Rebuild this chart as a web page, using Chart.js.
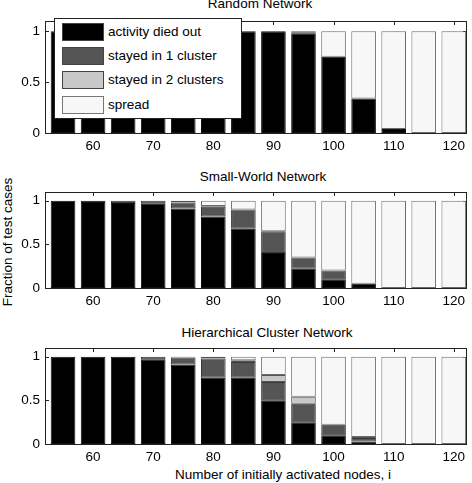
<!DOCTYPE html>
<html>
<head>
<meta charset="utf-8">
<script src="https://cdn.jsdelivr.net/npm/chart.js@4/dist/chart.umd.min.js"></script>
<style>
  html, body { margin: 0; padding: 0; background: #fff; }
  body { font-family: "Liberation Sans", Arial, sans-serif; color: #000; }
  #fig { position: relative; width: 472px; height: 483px; overflow: hidden; }
  .panel { position: absolute; left: 0; width: 472px; }
  .txt { position: absolute; font-size: 13.5px; line-height: 16px; white-space: nowrap; transform: translateX(-50%); }
  #ylabel { position: absolute; left: 8px; top: 242px; font-size: 13.5px; line-height: 16px; white-space: nowrap;
            transform: translate(-50%, -50%) rotate(-90deg); }
  #legend { position: absolute; left: 54px; top: 18px; width: 186px; height: 99px; background: #fff;
            border: 1px solid #222; font-size: 13.5px; }
  .row { position: absolute; left: 7px; height: 18px; }
  .sw { position: absolute; left: 0; top: 0; width: 40px; height: 16px; border: 1px solid #444; }
  .lab { position: absolute; left: 46px; top: 0; line-height: 18px; white-space: nowrap; }
</style>
</head>
<body>
<div id="fig">
  <div class="txt" style="left:260px; top:-4px">Random Network</div>
  <div class="txt" style="left:263px; top:169px">Small-World Network</div>
  <div class="txt" style="left:267px; top:325px">Hierarchical Cluster Network</div>
  <div class="txt" style="left:283px; top:467px">Number of initially activated nodes, i</div>
  <div id="ylabel">Fraction of test cases</div>

  <div class="panel" style="top:0px"><canvas id="randomChart" width="472" height="160"></canvas></div>
  <div class="panel" style="top:170px"><canvas id="smallWorldChart" width="472" height="145"></canvas></div>
  <div class="panel" style="top:326px"><canvas id="hierChart" width="472" height="145"></canvas></div>

  <div id="legend"></div>
</div>

<script>
// ===============================
// DONNEES
// ===============================

const nodes = [55, 60, 65, 70, 75, 80, 85, 90, 95, 100, 105, 110, 115, 120];
const xTicks = [60, 70, 80, 90, 100, 110, 120];
const yTicks = [0, 0.5, 1];

const seriesLabels = ["activity died out", "stayed in 1 cluster", "stayed in 2 clusters", "spread"];
const seriesColors = ["#000000", "#555555", "#c8c8c8", "#f7f7f7"];
const seriesEdges  = ["#111111", "#3a3a3a", "#555555", "#6a6a6a"];

// Random Network
const randomDied   = [1, 1, 1, 1, 1, 1, 1, 1, 0.98, 0.75, 0.34, 0.04, 0, 0];
const randomStay1  = [0, 0, 0, 0, 0, 0, 0, 0, 0.01, 0, 0, 0, 0, 0];
const randomStay2  = [0, 0, 0, 0, 0, 0, 0, 0, 0.01, 0, 0, 0, 0, 0];
const randomSpread = [0, 0, 0, 0, 0, 0, 0, 0, 0, 0.25, 0.66, 0.96, 1, 1];

// Small-World Network
const swDied   = [1, 0.985, 0.975, 0.97, 0.91, 0.82, 0.68, 0.40, 0.22, 0.10, 0.05, 0, 0, 0];
const swStay1  = [0, 0.015, 0.025, 0.03, 0.07, 0.11, 0.22, 0.25, 0.13, 0.10, 0, 0, 0, 0];
const swStay2  = [0, 0, 0, 0, 0.02, 0.01, 0, 0, 0, 0, 0, 0, 0, 0];
const swSpread = [0, 0, 0, 0, 0, 0.06, 0.10, 0.35, 0.65, 0.80, 0.95, 1, 1, 1];

// Hierarchical Cluster Network
const hcDied   = [1, 1, 1, 0.97, 0.91, 0.76, 0.76, 0.50, 0.25, 0.10, 0.03, 0, 0, 0];
const hcStay1  = [0, 0, 0, 0.03, 0.08, 0.22, 0.18, 0.21, 0.21, 0.12, 0.04, 0, 0, 0];
const hcStay2  = [0, 0, 0, 0, 0.01, 0.02, 0.02, 0.08, 0.08, 0, 0.01, 0, 0, 0];
const hcSpread = [0, 0, 0, 0, 0, 0, 0.04, 0.21, 0.46, 0.78, 0.92, 1, 1, 1];

// ===============================
// CADRE + GRADUATIONS INTERIEURES
// ===============================

const framePlugin = {
    id: "frame",
    beforeDatasetsDraw(chart) {
        const { ctx, chartArea: a, scales } = chart;
        ctx.save();
        ctx.strokeStyle = "#222";
        ctx.lineWidth = 1;
        ctx.strokeRect(a.left + 0.5, a.top + 0.5, a.right - a.left - 1, a.bottom - a.top);
        ctx.beginPath();
        xTicks.forEach(v => {
            const x = Math.round(scales.x.getPixelForValue(v)) + 0.5;
            ctx.moveTo(x, a.top); ctx.lineTo(x, a.top + 4);
            ctx.moveTo(x, a.bottom); ctx.lineTo(x, a.bottom - 4);
        });
        yTicks.forEach(v => {
            const y = Math.round(scales.y.getPixelForValue(v)) + 0.5;
            ctx.moveTo(a.left, y); ctx.lineTo(a.left + 4, y);
            ctx.moveTo(a.right, y); ctx.lineTo(a.right - 4, y);
        });
        ctx.stroke();
        ctx.restore();
    }
};

const font = { family: "'Liberation Sans', Arial, sans-serif", size: 13.5 };

function makeChart(id, series, padTop) {
    const ctx = document.getElementById(id).getContext("2d");
    return new Chart(ctx, {
        type: "bar",
        data: {
            datasets: series.map((vals, k) => ({
                label: seriesLabels[k],
                // segments vides : pas de trait parasite
                data: vals.map((v, i) => ({ x: nodes[i], y: v > 0 ? v : null })),
                backgroundColor: seriesColors[k],
                borderColor: seriesEdges[k],
                borderWidth: 1,
                borderSkipped: false,
                barPercentage: 0.82,
                categoryPercentage: 1
            }))
        },
        options: {
            responsive: false,
            animation: false,
            devicePixelRatio: 1,
            layout: { padding: { top: padTop, right: 5, left: 0, bottom: 0 } },
            plugins: {
                legend: { display: false },
                tooltip: { enabled: false }
            },
            scales: {
                x: {
                    type: "linear",
                    stacked: true,
                    offset: false,
                    min: 52,
                    max: 122.2,
                    afterBuildTicks: s => { s.ticks = xTicks.map(v => ({ value: v })); },
                    afterFit: s => { s.height = 27; },
                    ticks: { color: "#000", font: font, padding: 5, maxRotation: 0, autoSkip: false,
                             callback: v => String(v) },
                    grid: { display: false, drawTicks: false, offset: false },
                    border: { display: false }
                },
                y: {
                    stacked: true,
                    min: 0,
                    max: 1.1,
                    afterBuildTicks: s => { s.ticks = yTicks.map(v => ({ value: v })); },
                    afterFit: s => { s.width = 45; },
                    ticks: { color: "#000", font: font, padding: 5, callback: v => String(v) },
                    grid: { display: false, drawTicks: false },
                    border: { display: false }
                }
            }
        },
        plugins: [framePlugin]
    });
}

makeChart("randomChart", [randomDied, randomStay1, randomStay2, randomSpread], 21);
makeChart("smallWorldChart", [swDied, swStay1, swStay2, swSpread], 22);
makeChart("hierChart", [hcDied, hcStay1, hcStay2, hcSpread], 22);

// ===============================
// LEGENDE
// ===============================

const legend = document.getElementById("legend");
seriesLabels.forEach((lab, k) => {
    const row = document.createElement("div");
    row.className = "row";
    row.style.top = (4 + k * 24.2) + "px";
    row.innerHTML = '<div class="sw" style="background:' + seriesColors[k] +
        (k === 3 ? ';border-color:#777' : '') + '"></div><div class="lab">' + lab + '</div>';
    legend.appendChild(row);
});
</script>
</body>
</html>
